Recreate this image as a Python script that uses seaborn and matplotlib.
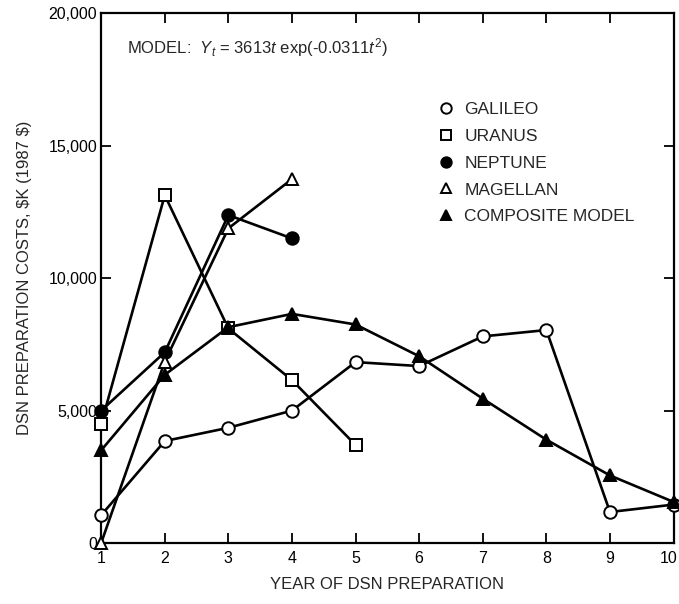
import pandas as pd
import matplotlib.pyplot as plt
import seaborn as sns
import numpy as np
from matplotlib.lines import Line2D
from matplotlib.transforms import ScaledTranslation

#------------------DATA-------------------------------------------
years = [1, 2, 3, 4, 5, 6, 7, 8, 9, 10]

galileo = [1050, 3850, 4350, 5000, 6830, 6680, 7800, 8040, 1170, 1450]
uranus = [4490, 13130, 8100, 6150, 3700]
neptune = [5000, 7200, 12380, 11500]
magellan = [0, 6850, 11880, 13740]
composite = [3500, 6350, 8150, 8650, 8250, 7050, 5450, 3900, 2550, 1550]

y_ticks = [0, 5000, 10000, 15000, 20000]
y_tick_labels = ['0', '5,000', '10,000', '15,000', '20,000']

#------------------STYLE------------------------------------------
sns.set_style('ticks')
plt.rcParams['font.family'] = ['Liberation Sans', 'DejaVu Sans']
plt.rcParams['mathtext.fontset'] = 'custom'
plt.rcParams['mathtext.rm'] = 'Liberation Sans'
plt.rcParams['mathtext.it'] = 'Liberation Sans:italic'

fig = plt.figure(figsize=(6.79, 6.04), dpi=100)
ax = fig.add_axes([0.149, 0.101, 0.843, 0.877])

# series: name, values, marker, filled?
series = [
    ('GALILEO', galileo, 'o', False),
    ('URANUS', uranus, 's', False),
    ('NEPTUNE', neptune, 'o', True),
    ('MAGELLAN', magellan, '^', False),
    ('COMPOSITE MODEL', composite, '^', True),
]

handles = []
for name, vals, mk, filled in series:
    fc = 'black' if filled else 'white'
    sns.lineplot(x=years[:len(vals)], y=vals, ax=ax, color='black',
                 linewidth=1.9, marker=mk, markersize=9,
                 markerfacecolor=fc, markeredgecolor='black',
                 markeredgewidth=1.4, clip_on=False, legend=False, zorder=3)
    handles.append(Line2D([], [], linestyle='none', marker=mk, markersize=7.5,
                          markerfacecolor=fc, markeredgecolor='black',
                          markeredgewidth=1.4, label=name))

ax.set_xlim(1, 10)
ax.set_ylim(0, 20000)
ax.set_xticks(years)
ax.set_yticks(y_ticks)
ax.set_yticklabels(y_tick_labels)
ax.tick_params(direction='in', top=True, right=True, length=7, width=1.3,
               labelsize=11.5, colors='black')
ax.tick_params(axis='x', labeltop=False, pad=6)
ax.tick_params(axis='y', labelright=False, pad=3)
for s in ax.spines.values():
    s.set_linewidth(1.6)
    s.set_color('black')

# nudge the "10" label left so it stays inside the figure
last = ax.get_xticklabels()[-1]
last.set_transform(last.get_transform() + ScaledTranslation(-5 / 100, 0, fig.dpi_scale_trans))

ax.set_xlabel('YEAR OF DSN PREPARATION', fontsize=12, labelpad=8)
ax.set_ylabel(r'DSN PREPARATION COSTS, \$K (1987 \$)',
              fontsize=12, labelpad=12)

ax.text(0.045, 0.936, r'MODEL:  $Y_t$ = 3613$t$ exp(-0.0311$t^2$)',
        transform=ax.transAxes, fontsize=12, va='center')

ax.legend(handles=handles, loc='upper left', bbox_to_anchor=(0.56, 0.862),
          frameon=False, fontsize=12.5, handletextpad=0.55, labelspacing=0.67,
          handlelength=1.0)

plt.savefig('out.png', dpi=100)
